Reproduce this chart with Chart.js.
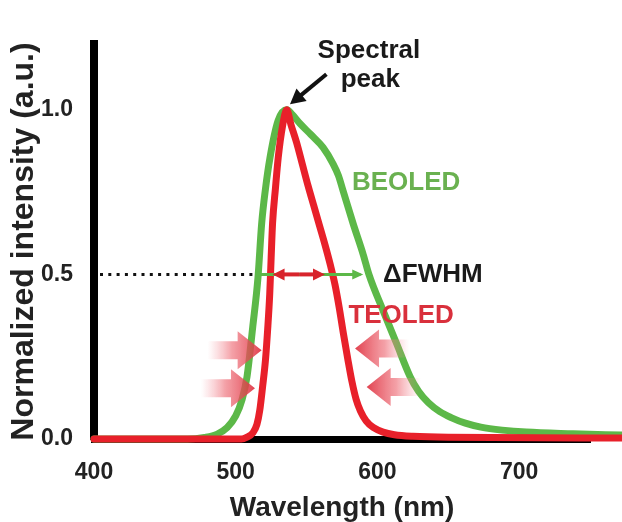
<!DOCTYPE html>
<html>
<head>
<meta charset="utf-8">
<script src="https://cdn.jsdelivr.net/npm/chart.js@4.4.1/dist/chart.umd.min.js"></script>
<style>
  html, body { margin: 0; padding: 0; background: #fff; }
</style>
</head>
<body>
<canvas id="grafica" width="622" height="522"></canvas>
<script>
// espectros normalizados
const beoledWl = [400, 466, 478, 487, 494, 500, 504.5, 508, 512, 515.7, 518.3, 521, 524.2, 529.9, 536, 540, 545.4, 553, 561.6, 568.7, 572.5, 575.7, 582.8, 590, 594, 604, 613.5, 623, 629, 636, 644, 652, 662, 673, 688, 705, 738, 772];
const beoledI = [0, 0, 0.005, 0.015, 0.035, 0.07, 0.12, 0.19, 0.34, 0.49, 0.654, 0.76, 0.855, 0.967, 1.0, 0.985, 0.958, 0.925, 0.886, 0.836, 0.8, 0.755, 0.655, 0.56, 0.5, 0.39, 0.29, 0.19, 0.145, 0.11, 0.083, 0.065, 0.048, 0.036, 0.027, 0.021, 0.016, 0.012];

const teoledWl = [400, 504, 508, 512, 515, 517, 519, 521, 522.5, 524, 525, 526, 528, 530, 533, 536, 539, 543, 547, 551, 555, 559, 563, 567, 570, 573, 576, 579, 582, 585, 588, 592, 597, 604, 612, 625, 650, 772];
const teoledI = [0, 0, 0.006, 0.018, 0.045, 0.088, 0.16, 0.24, 0.33, 0.44, 0.55, 0.655, 0.76, 0.855, 0.95, 1.0, 0.955, 0.9, 0.835, 0.77, 0.71, 0.65, 0.59, 0.525, 0.47, 0.4, 0.32, 0.245, 0.175, 0.12, 0.085, 0.055, 0.035, 0.021, 0.013, 0.008, 0.005, 0.003];

const xTicks = [400, 500, 600, 700];
const yTicks = [0, 0.5, 1.0];

const verde = "#5cb848";
const rojo = "#e8202a";
const fuente = "'Liberation Sans', Arial, sans-serif";

function puntos(wl, val) {
  let out = [];
  for (let i = 0; i < wl.length; i++) {
    out.push({ x: wl[i], y: val[i] });
  }
  return out;
}

function flecha(ctx, x1, y1, x2, y2, color, ancho, largo, mitad) {
  const ang = Math.atan2(y2 - y1, x2 - x1);
  ctx.strokeStyle = color;
  ctx.fillStyle = color;
  ctx.lineWidth = ancho;
  ctx.beginPath();
  ctx.moveTo(x1, y1);
  ctx.lineTo(x2 - Math.cos(ang) * largo * 0.8, y2 - Math.sin(ang) * largo * 0.8);
  ctx.stroke();
  ctx.beginPath();
  ctx.moveTo(x2, y2);
  ctx.lineTo(x2 - Math.cos(ang) * largo - Math.sin(ang) * mitad, y2 - Math.sin(ang) * largo + Math.cos(ang) * mitad);
  ctx.lineTo(x2 - Math.cos(ang) * largo + Math.sin(ang) * mitad, y2 - Math.sin(ang) * largo - Math.cos(ang) * mitad);
  ctx.closePath();
  ctx.fill();
}

// flechas gruesas rosadas (dir 1 = hacia la derecha)
function flechaRosa(ctx, px, py, dir) {
  const cabeza = 24, alto = 19, cuerpo = 9, cola = 30;
  const cuello = px - dir * cabeza;
  const fin = cuello - dir * cola;
  const g = ctx.createLinearGradient(fin, 0, px, 0);
  g.addColorStop(0, "rgba(245,150,160,0)");
  g.addColorStop(0.45, "rgba(238,110,120,0.65)");
  g.addColorStop(1, "rgba(222,45,60,0.9)");
  ctx.fillStyle = g;
  ctx.beginPath();
  ctx.moveTo(fin, py - cuerpo);
  ctx.lineTo(cuello, py - cuerpo);
  ctx.lineTo(cuello, py - alto);
  ctx.lineTo(px, py);
  ctx.lineTo(cuello, py + alto);
  ctx.lineTo(cuello, py + cuerpo);
  ctx.lineTo(fin, py + cuerpo);
  ctx.closePath();
  ctx.fill();
}

const notas = {
  id: "notas",
  beforeDatasetsDraw(chart) {
    const { ctx, scales: { x, y } } = chart;
    const y05 = y.getPixelForValue(0.5);
    ctx.save();
    ctx.strokeStyle = "#111";
    ctx.lineWidth = 3;
    ctx.setLineDash([3, 5.3]);
    ctx.beginPath();
    ctx.moveTo(x.left + 6, y05);
    ctx.lineTo(x.getPixelForValue(591), y05);
    ctx.stroke();
    ctx.restore();
  },
  afterDatasetsDraw(chart) {
    const { ctx, scales: { x, y } } = chart;
    const y05 = y.getPixelForValue(0.5);
    ctx.save();

    // FWHM
    flecha(ctx, x.getPixelForValue(515), y05, x.getPixelForValue(590), y05, verde, 3, 11, 5);
    flecha(ctx, x.getPixelForValue(545), y05, x.getPixelForValue(563), y05, "#d8242c", 4, 12, 6);
    flecha(ctx, x.getPixelForValue(545), y05, x.getPixelForValue(526), y05, "#d8242c", 4, 12, 6);

    // pico espectral
    flecha(ctx, x.getPixelForValue(564), y.getPixelForValue(1.108),
      x.getPixelForValue(538.3), y.getPixelForValue(1.017), "#111", 4, 15, 8);

    ctx.font = "bold 26px " + fuente;
    ctx.textBaseline = "alphabetic";
    ctx.textAlign = "center";
    ctx.fillStyle = "#1a1a1a";
    ctx.fillText("Spectral", x.getPixelForValue(594), y.getPixelForValue(1.158));
    ctx.fillText("peak", x.getPixelForValue(595), y.getPixelForValue(1.068));

    ctx.textAlign = "left";
    ctx.fillStyle = "#6ab150";
    ctx.fillText("BEOLED", x.getPixelForValue(582), y.getPixelForValue(0.755));
    ctx.fillStyle = "#1a1a1a";
    ctx.fillText("ΔFWHM", x.getPixelForValue(604), y.getPixelForValue(0.477));
    ctx.fillStyle = "#d9303c";
    ctx.fillText("TEOLED", x.getPixelForValue(579.5), y.getPixelForValue(0.351));

    // flechas de estrechamiento
    flechaRosa(ctx, x.getPixelForValue(518.3), y.getPixelForValue(0.27), 1);
    flechaRosa(ctx, x.getPixelForValue(513.6), y.getPixelForValue(0.154), 1);
    flechaRosa(ctx, x.getPixelForValue(584.2), y.getPixelForValue(0.275), -1);
    flechaRosa(ctx, x.getPixelForValue(592.4), y.getPixelForValue(0.158), -1);

    ctx.restore();
  }
};

new Chart("grafica", {
  type: "line",
  data: {
    datasets: [
      {
        label: "TEOLED",
        data: puntos(teoledWl, teoledI),
        borderColor: rojo,
        borderWidth: 7,
        pointRadius: 0,
        fill: false,
        cubicInterpolationMode: "monotone",
        borderCapStyle: "round",
        borderJoinStyle: "round",
        clip: false,
      },
      {
        label: "BEOLED",
        data: puntos(beoledWl, beoledI),
        borderColor: verde,
        borderWidth: 7,
        pointRadius: 0,
        fill: false,
        cubicInterpolationMode: "monotone",
        borderCapStyle: "round",
        borderJoinStyle: "round",
        clip: false,
      },
    ],
  },
  options: {
    responsive: false,
    animation: false,
    layout: { padding: { top: 44, right: 32, left: 0, bottom: 0 } },
    plugins: { legend: { display: false }, tooltip: { enabled: false } },
    scales: {
      x: {
        type: "linear",
        min: 400,
        max: 750,
        afterBuildTicks: (s) => { s.ticks = xTicks.map((v) => ({ value: v })); },
        afterFit: (s) => { s.height = 83; },
        grid: { display: false, drawTicks: false },
        border: { display: true, color: "#000", width: 7 },
        ticks: {
          padding: 20,
          color: "#222",
          maxRotation: 0,
          font: { family: fuente, size: 23, weight: "bold" },
          callback: (v) => String(v),
        },
        title: {
          display: true,
          text: "Wavelength (nm)",
          color: "#222",
          padding: { top: 0, bottom: 0 },
          font: { family: fuente, size: 28, weight: "bold", lineHeight: 1 },
        },
      },
      y: {
        min: 0,
        max: 1.2,
        afterBuildTicks: (s) => { s.ticks = yTicks.map((v) => ({ value: v })); },
        afterFit: (s) => { s.width = 94; },
        grid: { display: false, drawTicks: false },
        border: { display: true, color: "#000", width: 8 },
        ticks: {
          padding: 21,
          color: "#222",
          font: { family: fuente, size: 23, weight: "bold" },
          callback: (v) => v.toFixed(1),
        },
        title: {
          display: true,
          text: "Normalized intensity (a.u.)",
          color: "#222",
          padding: { top: 5, bottom: 0 },
          font: { family: fuente, size: 32, weight: "bold" },
        },
      },
    },
  },
  plugins: [notas],
});
</script>
</body>
</html>
